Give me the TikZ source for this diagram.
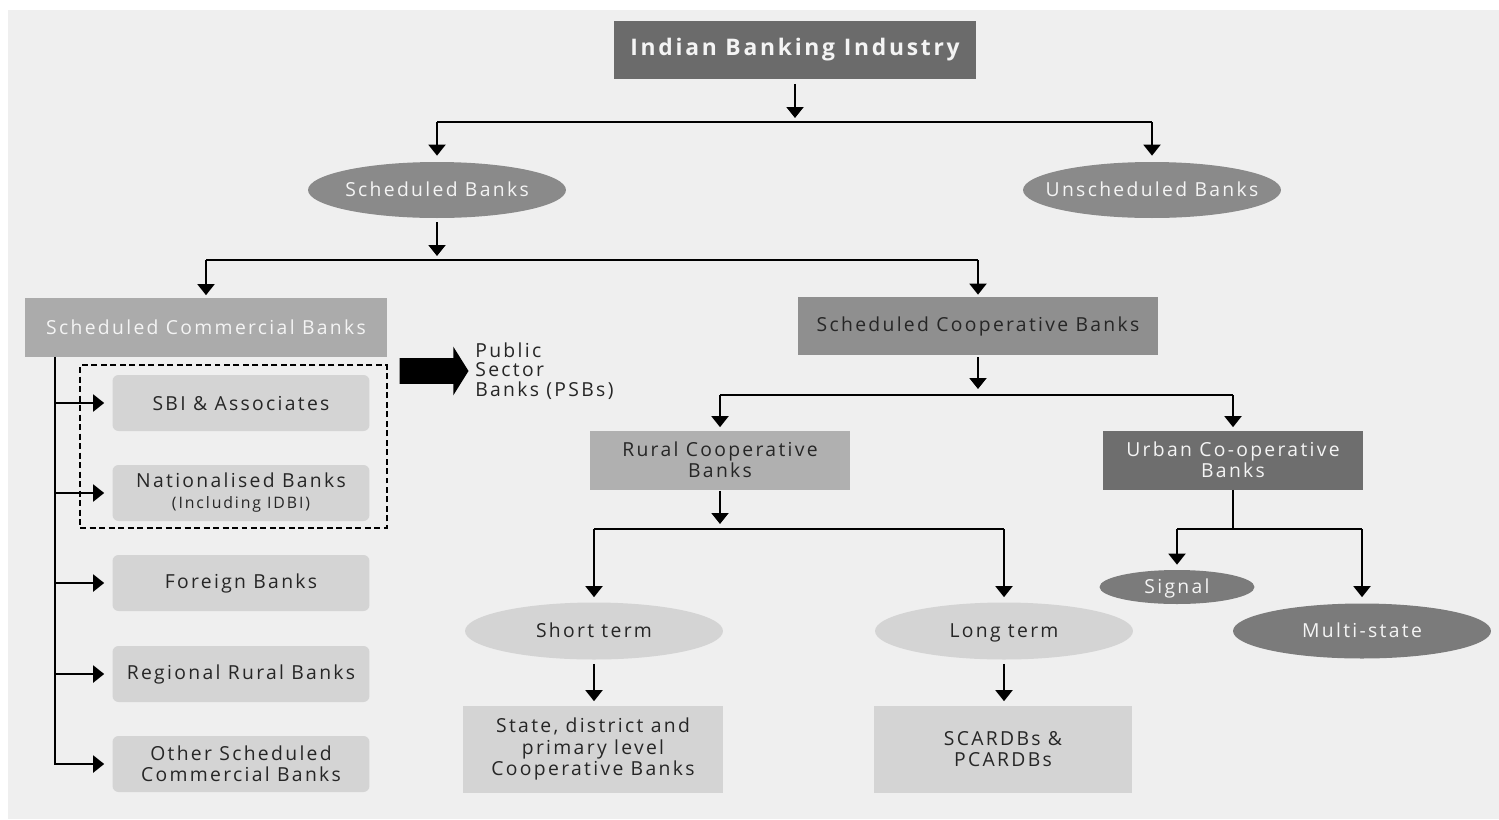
\documentclass[tikz,border=0pt]{standalone}
\usepackage{fontspec}
\setmainfont{Open Sans}[LetterSpace=12]
\usetikzlibrary{arrows.meta,shapes.geometric,shapes.arrows}
\definecolor{bggrey}{HTML}{EFEFEF}
\definecolor{topgrey}{HTML}{6B6B6B}
\definecolor{midgrey}{HTML}{8A8A8A}
\definecolor{coopgrey}{HTML}{8F8F8F}
\definecolor{scbgrey}{HTML}{ABABAB}
\definecolor{ruralgrey}{HTML}{B0B0B0}
\definecolor{urbangrey}{HTML}{6E6E6E}
\definecolor{lightgrey}{HTML}{D4D4D4}
\definecolor{ovalgrey}{HTML}{7B7B7B}
\definecolor{inkdark}{HTML}{262626}
\definecolor{inklight}{HTML}{F4F4F4}

\begin{document}
\begin{tikzpicture}[
  x=0.02cm, y=-0.02cm,
  every node/.style={font=\fontsize{11}{12}\selectfont, align=center, inner sep=0pt},
  rectbox/.style={rectangle, minimum width=5.2cm, minimum height=1.18cm},
  listbox/.style={rectangle, rounded corners=0.12cm, fill=lightgrey, text=inkdark, minimum width=5.14cm, minimum height=1.12cm},
  oval/.style={ellipse, inner xsep=-0.35cm, text height=1.6ex, text depth=0.15ex, minimum width=5.16cm, minimum height=1.12cm},
  bus/.style={line width=0.04cm},
  arr/.style={bus, -{Triangle[width=0.34cm,length=0.22cm]}}
]
\useasboundingbox (0,0) rectangle (1499,819);
\fill[bggrey] (8,10) rectangle (1499,819);

\node[rectbox, fill=topgrey, text=inklight, minimum width=7.24cm, font=\fontsize{13}{14}\selectfont\bfseries] (ibi) at (795,50) {Indian Banking Industry};

\node[oval, fill=midgrey, text=inklight] (sb) at (437,190) {Scheduled Banks};
\node[oval, fill=midgrey, text=inklight] (usb) at (1152,190) {Unscheduled Banks};

\node[rectbox, fill=scbgrey, text=inklight, minimum width=7.24cm] (scb) at (206,327) {Scheduled Commercial Banks};
\node[rectbox, fill=coopgrey, text=inkdark, minimum width=7.22cm, minimum height=1.16cm] (scoop) at (978,326) {Scheduled Cooperative Banks};

\node[draw, dashed, dash pattern=on 0.12cm off 0.07cm, line width=0.03cm, minimum width=6.14cm, minimum height=3.26cm] (psb) at (233.5,446.5) {};
\node[listbox] (sbi) at (241,403) {SBI \& Associates};
\node[listbox] (nat) at (241,493) {Nationalised Banks\\{\fontsize{9}{10}\selectfont (Including IDBI)}};
\node[listbox] (fgn) at (241,583) {Foreign Banks};
\node[listbox] (rrb) at (241,674) {Regional Rural Banks};
\node[listbox] (osc) at (241,764) {Other Scheduled\\Commercial Banks};

\node[single arrow, fill=black, inner xsep=0pt, inner ysep=0.25cm, text height=0pt, text depth=0pt, minimum height=1.38cm, single arrow head extend=0.23cm, single arrow tip angle=116] (bigarr) at (430,371) {};
\node[anchor=west, align=left, text=inkdark, font=\fontsize{11}{11}\selectfont] (psbtxt) at (475,371) {Public\\Sector\\Banks (PSBs)};

\node[rectbox, fill=ruralgrey, text=inkdark] (rcb) at (720,460) {Rural Cooperative\\Banks};
\node[rectbox, fill=urbangrey, text=inklight] (ucb) at (1233,460) {Urban Co-operative\\Banks};

\node[oval, fill=lightgrey, text=inkdark, minimum height=1.14cm] (st) at (594,631) {Short term};
\node[oval, fill=lightgrey, text=inkdark, minimum height=1.14cm] (lt) at (1004,631) {Long term};
\node[oval, fill=ovalgrey, text=inklight, minimum width=3.1cm, minimum height=0.68cm] (sig) at (1177,587) {Signal};
\node[oval, fill=ovalgrey, text=inklight, minimum height=1.1cm] (ms) at (1362,631) {Multi-state};

\node[rectbox, fill=lightgrey, text=inkdark, minimum height=1.74cm] (sdp) at (593,749) {State, district and\\primary level\\Cooperative Banks};
\node[rectbox, fill=lightgrey, text=inkdark, minimum width=5.18cm, minimum height=1.74cm] (scard) at (1003,749) {SCARDBs \&\\PCARDBs};

\coordinate (b1) at (795,122);
\coordinate (b2) at (437,260);
\coordinate (b3) at (978,395);
\coordinate (b4) at (720,529);
\coordinate (b5) at (1233,529);
\coordinate (trunk) at (55,765);

\draw[arr, shorten <=0.08cm, shorten >=0.08cm] (ibi) -- (b1);
\draw[bus] (sb |- b1) -- (usb |- b1);
\draw[arr, shorten >=0.12cm] (sb |- b1) -- (sb);
\draw[arr, shorten >=0.12cm] (usb |- b1) -- (usb);

\draw[arr, shorten <=0.08cm, shorten >=0.08cm] (sb) -- (b2);
\draw[bus] (scb |- b2) -- (scoop |- b2);
\draw[arr, shorten >=0.04cm] (scb |- b2) -- (scb);
\draw[arr, shorten >=0.04cm] (scoop |- b2) -- (scoop);

\draw[bus] (scb.south -| trunk) -- (trunk);
\foreach \n in {sbi,nat,fgn,rrb,osc}
  \draw[arr, shorten >=0.16cm] (trunk |- \n) -- (\n.west);

\draw[arr, shorten <=0.04cm, shorten >=0.12cm] (scoop) -- (b3);
\draw[bus] (rcb |- b3) -- (ucb |- b3);
\draw[arr, shorten >=0.06cm] (rcb |- b3) -- (rcb);
\draw[arr, shorten >=0.06cm] (ucb |- b3) -- (ucb);

\draw[arr, shorten <=0.02cm, shorten >=0.1cm] (rcb) -- (b4);
\draw[bus] (st |- b4) -- (lt |- b4);
\draw[arr, shorten >=0.1cm] (st |- b4) -- (st);
\draw[arr, shorten >=0.1cm] (lt |- b4) -- (lt);

\draw[bus] (ucb) -- (b5);
\draw[bus] (sig |- b5) -- (ms |- b5);
\draw[arr, shorten >=0.1cm] (sig |- b5) -- (sig);
\draw[arr, shorten >=0.12cm] (ms |- b5) -- (ms);

\draw[arr, shorten <=0.08cm, shorten >=0.08cm] (st) -- (sdp.north -| st);
\draw[arr, shorten <=0.08cm, shorten >=0.08cm] (lt) -- (scard.north -| lt);
\end{tikzpicture}
\end{document}
